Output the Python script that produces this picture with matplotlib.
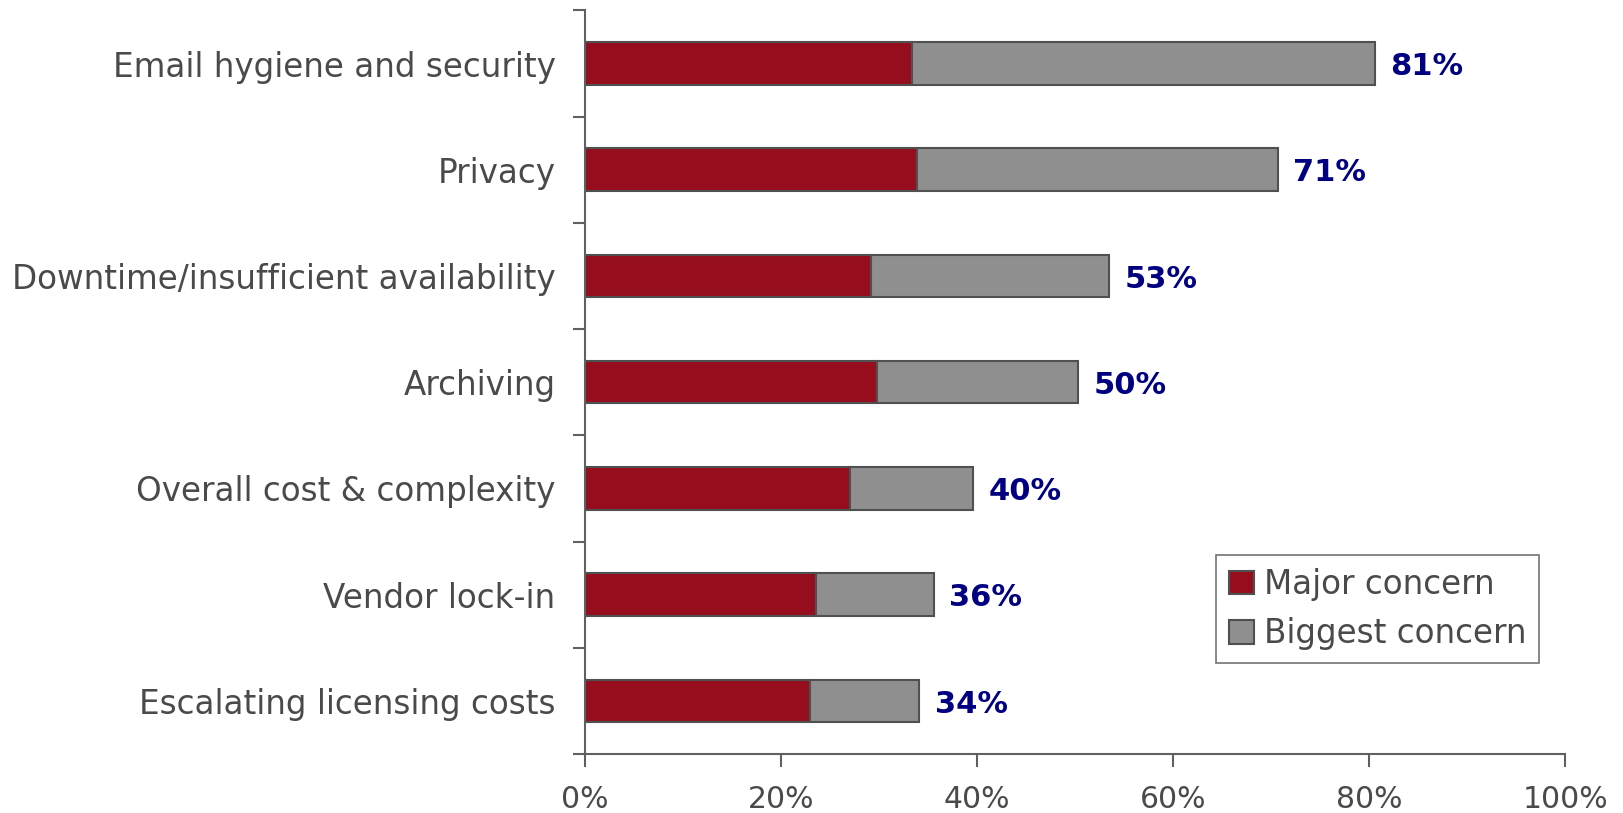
import matplotlib
matplotlib.use("Agg")
import matplotlib.pyplot as plt
import numpy as np

# Data (percent)
categories = ["Email hygiene and security", "Privacy", "Downtime/insufficient availability",
              "Archiving", "Overall cost & complexity", "Vendor lock-in", "Escalating licensing costs"]
major = [33.4, 33.9, 29.2, 29.8, 27.1, 23.6, 23.0]
biggest = [47.2, 36.8, 24.3, 20.5, 12.5, 12.0, 11.1]
total_labels = ["81%", "71%", "53%", "50%", "40%", "36%", "34%"]
x_ticks = [0, 20, 40, 60, 80, 100]

RED = "#960E1E"
GRAY = "#8F8F8F"
EDGE = "#505050"
TEXT = "#4A4A4A"
NAVY = "#000080"

plt.rcParams['font.family'] = ['DejaVu Sans']


def main():
    fig = plt.figure(figsize=(16.24, 8.13), dpi=100)
    ax = fig.add_axes([0.360, 0.0726, 0.6037, 0.9146])

    y = np.arange(len(categories))
    ax.barh(y, major, height=0.4, color=RED, edgecolor=EDGE, linewidth=1.5, label="Major concern")
    ax.barh(y, biggest, left=major, height=0.4, color=GRAY, edgecolor=EDGE, linewidth=1.5,
            label="Biggest concern")

    for yi, m, b, lab in zip(y, major, biggest, total_labels):
        ax.text(m + b + 1.6, yi + 0.03, lab, va="center", ha="left", color=NAVY,
                fontsize=22, fontweight="bold")

    ax.set_ylim(len(categories) - 0.5, -0.5)
    ax.set_xlim(0, 100)

    # category labels, ticks at category boundaries
    ax.set_yticks(y)
    ax.set_yticklabels(categories, fontsize=23.5, color=TEXT)
    ax.tick_params(axis="y", which="major", length=0, pad=21)
    ax.set_yticks(np.arange(-0.5, len(categories), 1.0), minor=True)
    ax.tick_params(axis="y", which="minor", length=9, width=1.5, color="#606060")

    ax.set_xticks(x_ticks)
    ax.set_xticklabels([f"{v}%" for v in x_ticks], fontsize=21.5, color=TEXT)
    ax.tick_params(axis="x", length=9, width=1.5, color="#606060", pad=13)

    for side in ["top", "right"]:
        ax.spines[side].set_visible(False)
    for side in ["left", "bottom"]:
        ax.spines[side].set_color("#606060")
        ax.spines[side].set_linewidth(1.5)

    leg = ax.legend(loc="lower right", bbox_to_anchor=(0.9735, 0.122), fontsize=23.5,
                    frameon=True, fancybox=False, handlelength=0.75, handleheight=0.75,
                    handletextpad=0.3, borderpad=0.4, labelspacing=0.5, borderaxespad=0)
    leg.get_frame().set_edgecolor("#505050")
    leg.get_frame().set_linewidth(1.2)
    for t in leg.get_texts():
        t.set_color(TEXT)

    fig.savefig("out.png", dpi=100)


if __name__ == "__main__":
    main()
